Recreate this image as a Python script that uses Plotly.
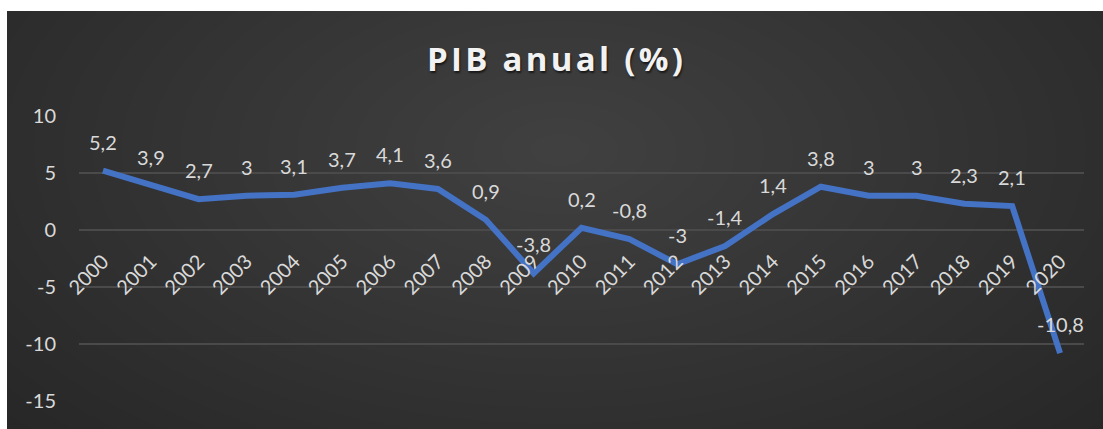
import plotly.graph_objects as go

years = [str(y) for y in range(2000, 2021)]
pib = [5.2, 3.9, 2.7, 3, 3.1, 3.7, 4.1, 3.6, 0.9, -3.8, 0.2, -0.8, -3, -1.4, 1.4, 3.8, 3, 3, 2.3, 2.1, -10.8]
y_ticks = [-15, -10, -5, 0, 5, 10]
y_ticktext = [str(v) for v in y_ticks]
title = 'PIB anual (%)'

W, H = 1103, 429
L, R, T, B = 79, 1084, 116, 401  # plot area in px


def px(x):
    return (x - L) / (R - L)


def py(y):
    return (B - y) / (B - T)


fig = go.Figure()
fig.add_trace(go.Scatter(
    x=years, y=pib, mode='lines',
    line=dict(color='#4472C4', width=6),
    hoverinfo='skip', showlegend=False,
))

# data labels (comma decimal)
labels = [f'{v:g}'.replace('.', ',') for v in pib]
annotations = [dict(x=i, y=v, xref='x', yref='y', text=lab, showarrow=False, yshift=29,
                    font=dict(family='Lato', size=20, color='#d9d9d9'))
               for i, (v, lab) in enumerate(zip(pib, labels))]

# dark card with radial-ish gradient
shapes = [dict(type='rect', xref='paper', yref='paper', layer='below',
               x0=px(7), x1=px(W), y0=py(H), y1=py(11),
               fillcolor='#262626', line_width=0)]
cx, cy = 560, 150
n = 26
for i in range(n):
    f = 1 - i / n
    rx, ry = 760 * f, 420 * f
    shapes.append(dict(type='circle', xref='paper', yref='paper', layer='below',
                       x0=px(cx - rx), x1=px(cx + rx), y0=py(cy + ry), y1=py(cy - ry),
                       fillcolor='rgba(255,255,255,0.009)', line_width=0))

# loose letter spacing in the title
spaced_title = '\u200a'.join(title)

fig.update_layout(
    width=W, height=H,
    margin=dict(l=L, r=W - R, t=T, b=H - B),
    paper_bgcolor='white', plot_bgcolor='rgba(0,0,0,0)',
    shapes=shapes,
    annotations=annotations,
    title=dict(text=f'<b>{spaced_title}</b>', x=555 / W, xanchor='center',
               y=1 - 59 / H, yanchor='middle',
               font=dict(family='Open Sans', size=33, color='#f2f2f2',
                         shadow='1px 2px 2px rgba(0,0,0,0.6)')),
    font=dict(family='Lato', size=20, color='#d9d9d9'),
    xaxis=dict(type='category', range=[-0.5, 20.5], showgrid=False, zeroline=False,
               showline=False, ticks='', tickangle=-45, anchor='free', position=py(230),
               ticklabelstandoff=15, tickfont=dict(family='Lato', size=20, color='#d9d9d9')),
    yaxis=dict(range=[-15, 10], tickvals=y_ticks, ticktext=y_ticktext, showgrid=True,
               gridcolor='#4a4a4a', gridwidth=1.5, zeroline=False, showline=False, ticks='',
               ticklabelstandoff=22, tickfont=dict(family='Lato', size=20, color='#d9d9d9')),
)

fig.write_html("out.html", config={'displayModeBar': False},
               post_script="document.body.style.margin='0';")
